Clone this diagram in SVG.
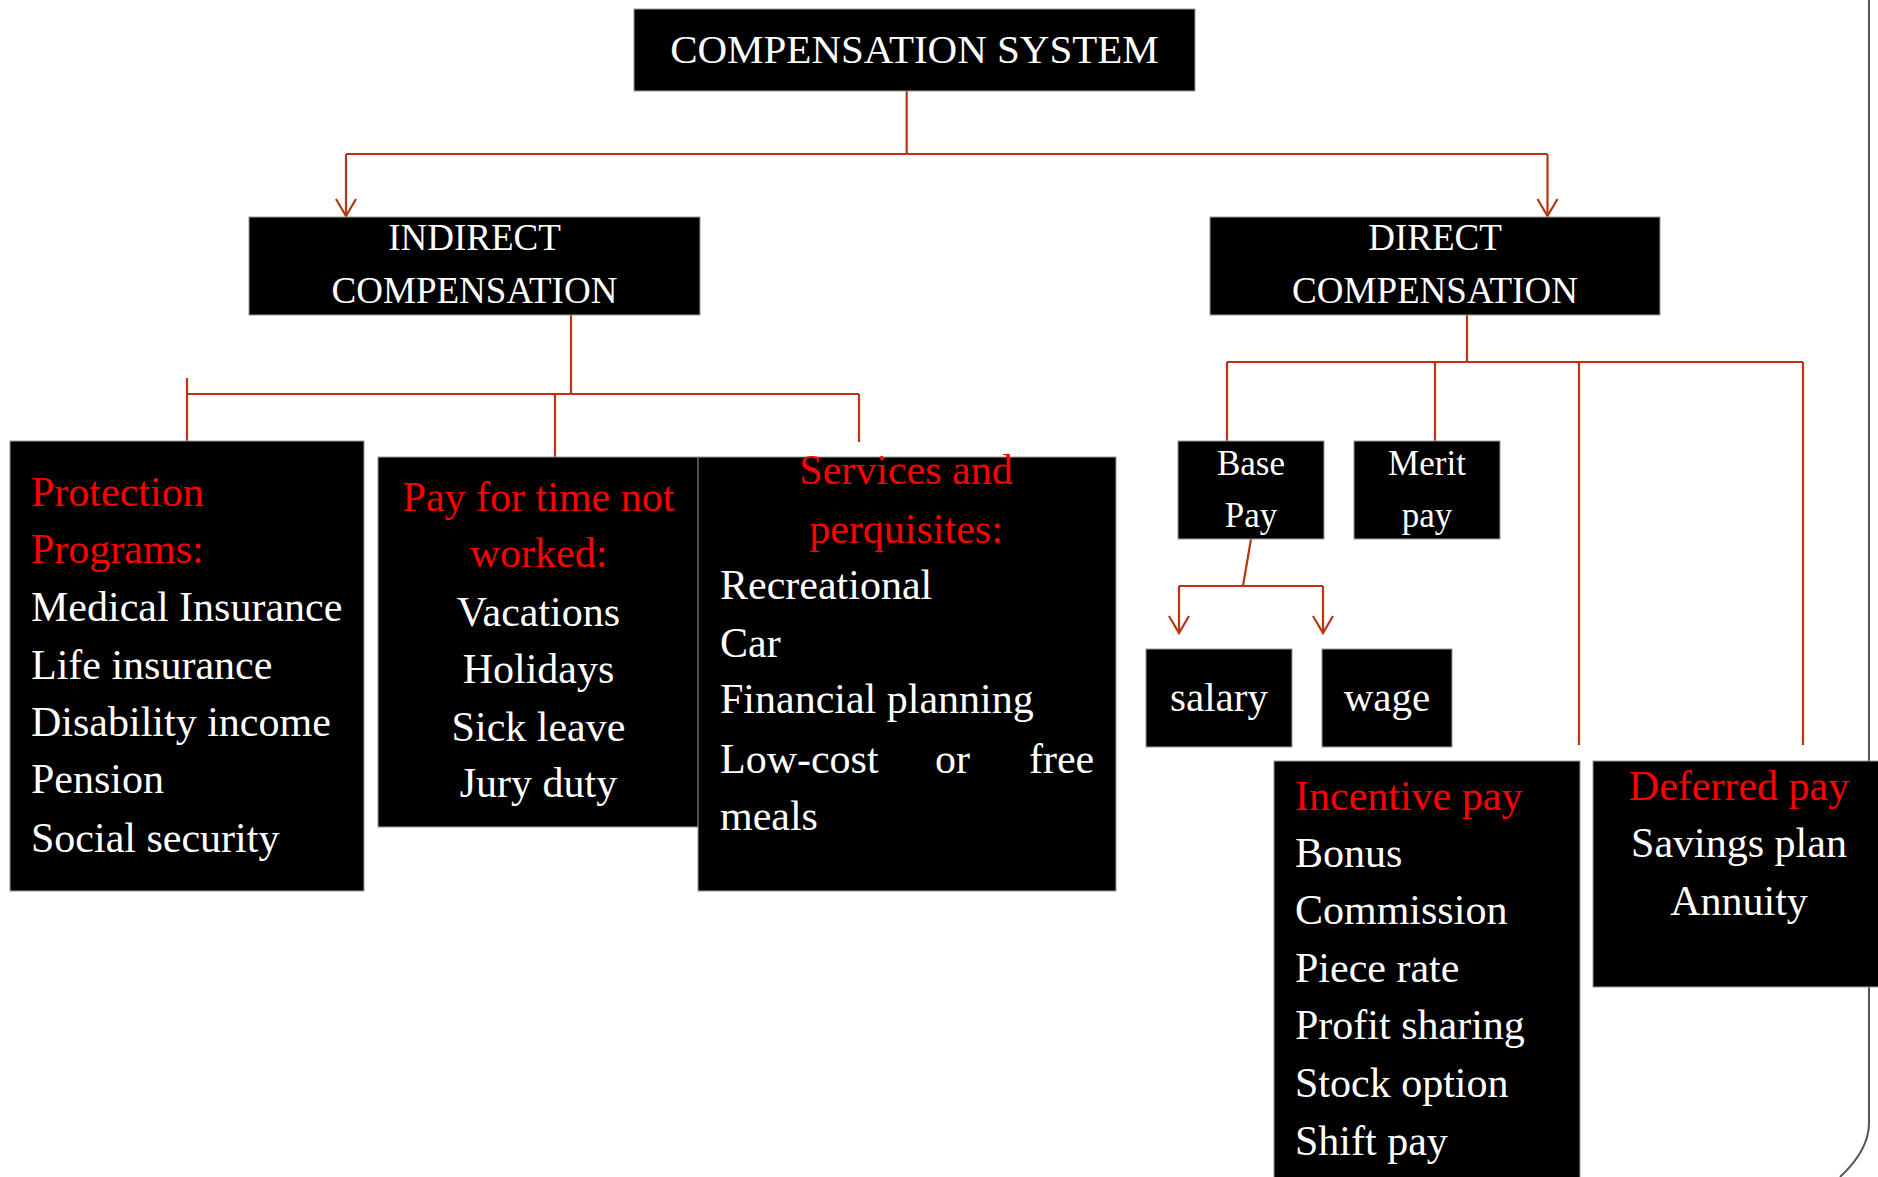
<svg xmlns="http://www.w3.org/2000/svg" width="1878" height="1177" viewBox="0 0 1878 1177">
<style>
.box{fill:#000;stroke:#999;stroke-width:1}
.t{font-family:"Liberation Serif","Times New Roman",serif;fill:#fff}
.r{fill:#f00}
.c{text-anchor:middle}
.l{fill:none;stroke:#b8360f;stroke-width:2.2}
.a{fill:none;stroke:#b8360f;stroke-width:2.2}
</style>
<defs>
<marker id="arr" markerUnits="userSpaceOnUse" orient="auto" refX="0" refY="0" overflow="visible">
<path class="a" d="M-17,-10 L0,0 L-17,10"/>
</marker>
</defs>
<rect width="1878" height="1177" fill="#fff"/>
<path d="M1869,0 V1123 Q1869,1150 1840,1177" fill="none" stroke="#555" stroke-width="2"/>
<g id="connectors">
<path class="l" d="M906.7,91 V154 M346,154 H1547.5"/>
<path class="l" d="M346,154 V216" marker-end="url(#arr)"/>
<path class="l" d="M1547.5,154 V216" marker-end="url(#arr)"/>
<path class="l" d="M571,315 V394 M187,394 H859 M187,378 V441 M555,394 V457 M859,394 V442"/>
<path class="l" d="M1467,315 V362 M1227,362 H1803 M1227,362 V441 M1435,362 V441 M1579,362 V745 M1803,362 V745"/>
<path class="l" d="M1251,539 L1243,586 M1179,586 H1323"/>
<path class="l" d="M1179,586 V633" marker-end="url(#arr)"/>
<path class="l" d="M1323,586 V633" marker-end="url(#arr)"/>
</g>
<g id="system">
<rect class="box" x="634" y="9" width="561" height="82"/>
<text class="t c" x="914.5" y="63" font-size="41">COMPENSATION SYSTEM</text>
</g>
<g id="indirect">
<rect class="box" x="249" y="217" width="451" height="98"/>
<text class="t c" x="474.5" y="250" font-size="37">INDIRECT</text>
<text class="t c" x="474.5" y="303" font-size="37">COMPENSATION</text>
</g>
<g id="direct">
<rect class="box" x="1210" y="217" width="450" height="98"/>
<text class="t c" x="1435" y="250" font-size="37">DIRECT</text>
<text class="t c" x="1435" y="303" font-size="37">COMPENSATION</text>
</g>
<g id="protection">
<rect class="box" x="10" y="441" width="354" height="450"/>
<g class="t" font-size="42">
<text class="r" x="31" y="506">Protection</text>
<text class="r" x="31" y="563">Programs:</text>
<text x="31" y="621">Medical Insurance</text>
<text x="31" y="679">Life insurance</text>
<text x="31" y="736">Disability income</text>
<text x="31" y="793">Pension</text>
<text x="31" y="852">Social security</text>
</g>
</g>
<g id="paytime">
<rect class="box" x="378" y="457" width="321" height="370"/>
<g class="t c" font-size="42">
<text class="r" x="538.5" y="511">Pay for time not</text>
<text class="r" x="538.5" y="567">worked:</text>
<text x="538.5" y="626">Vacations</text>
<text x="538.5" y="683">Holidays</text>
<text x="538.5" y="741">Sick leave</text>
<text x="538.5" y="797">Jury duty</text>
</g>
</g>
<g id="services">
<rect class="box" x="698" y="457" width="418" height="434"/>
<g class="t" font-size="42">
<text class="r c" x="906" y="484">Services and</text>
<text class="r c" x="906" y="543">perquisites:</text>
<text x="720" y="599">Recreational</text>
<text x="720" y="657">Car</text>
<text x="720" y="713">Financial planning</text>
<text y="773"><tspan x="720">Low-cost</tspan><tspan x="935">or</tspan><tspan x="1029">free</tspan></text>
<text x="720" y="830">meals</text>
</g>
</g>
<g id="basepay">
<rect class="box" x="1178" y="441" width="146" height="98"/>
<text class="t c" x="1251" y="475" font-size="35">Base</text>
<text class="t c" x="1251" y="527" font-size="35">Pay</text>
</g>
<g id="merit">
<rect class="box" x="1354" y="441" width="146" height="98"/>
<text class="t c" x="1427" y="475" font-size="35">Merit</text>
<text class="t c" x="1427" y="527" font-size="35">pay</text>
</g>
<g id="salary">
<rect class="box" x="1146" y="649" width="146" height="98"/>
<text class="t c" x="1219" y="711" font-size="41">salary</text>
</g>
<g id="wage">
<rect class="box" x="1322" y="649" width="130" height="98"/>
<text class="t c" x="1387" y="711" font-size="41">wage</text>
</g>
<g id="incentive">
<rect class="box" x="1274" y="761" width="306" height="420"/>
<g class="t" font-size="42">
<text class="r" x="1295" y="810">Incentive pay</text>
<text x="1295" y="867">Bonus</text>
<text x="1295" y="924">Commission</text>
<text x="1295" y="982">Piece rate</text>
<text x="1295" y="1039">Profit sharing</text>
<text x="1295" y="1097">Stock option</text>
<text x="1295" y="1155">Shift pay</text>
</g>
</g>
<g id="deferred">
<rect class="box" x="1593" y="761" width="290" height="226"/>
<g class="t c" font-size="42">
<text class="r" x="1739" y="800">Deferred pay</text>
<text x="1739" y="857">Savings plan</text>
<text x="1739" y="915">Annuity</text>
</g>
</g>
</svg>
